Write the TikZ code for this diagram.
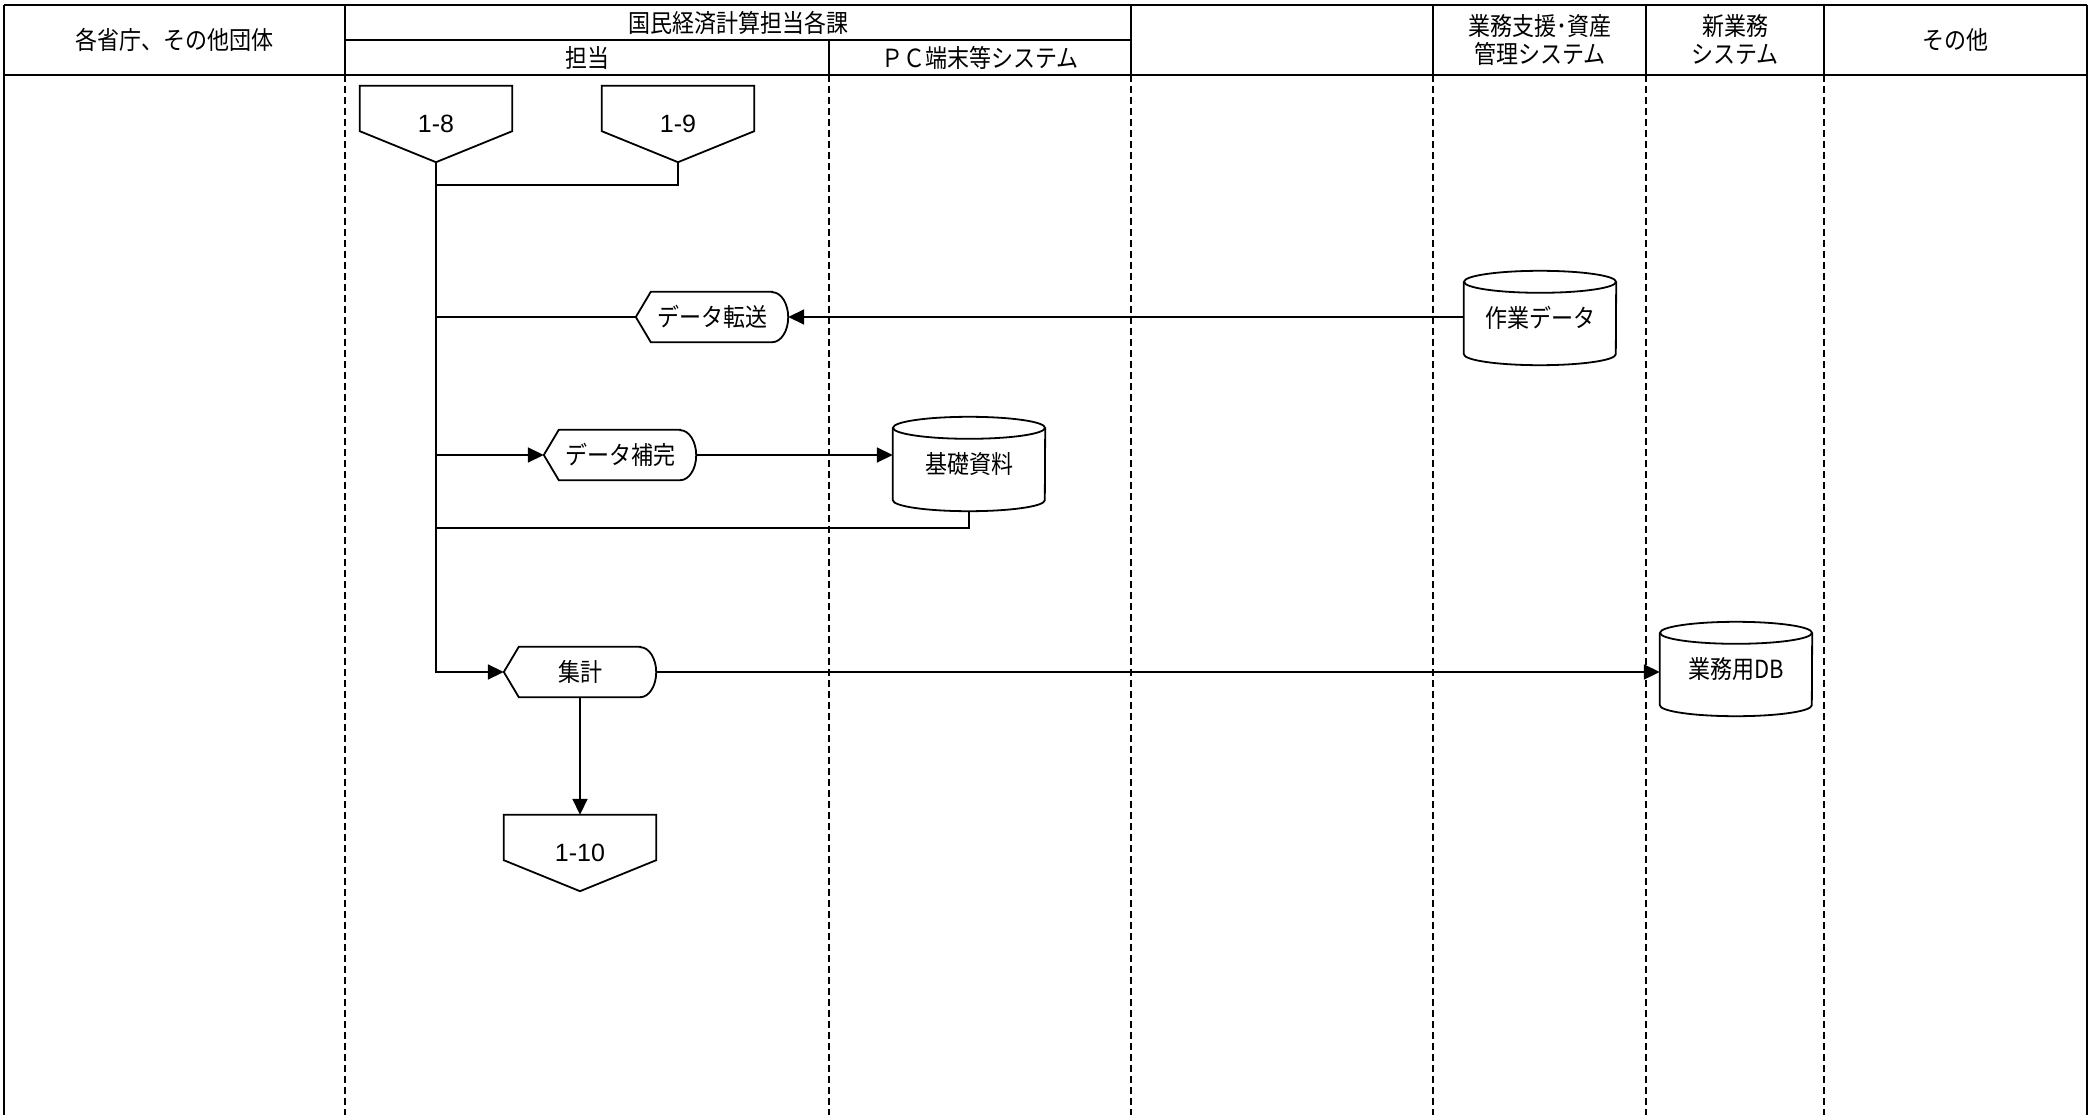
\documentclass[tikz,border=0pt]{standalone}
\usepackage{fontspec}
\setmainfont{Noto Sans CJK JP}[FakeStretch=0.88]
\newfontfamily\numfont{Liberation Sans}
\usetikzlibrary{arrows.meta,calc}

\newcommand\myoff[3]{%
  \node[offbox] (#1) at (#2) {#3};
  \draw[shp] (#1.north west) -- (#1.north east) -- ($(#1.south east)+(0,31)$) -- (#1.south) -- ($(#1.south west)+(0,31)$) -- cycle;
}
\newcommand\mydisp[3]{%
  \node[dispbox] (#1) at (#2) {#3};
  \draw[shp] ($(#1.north east)+(-16,0)$) -- ($(#1.north west)+(15,0)$) -- (#1.west) -- ($(#1.south west)+(15,0)$) -- ($(#1.south east)+(-16,0)$) arc[start angle=-90,end angle=90,x radius=16,y radius=25] -- cycle;
}
\newcommand\mycyl[3]{%
  \node[cylbox] (#1) at (#2) {#3};
  \draw[shp] ($(#1.north)+(0,-11)$) ellipse [x radius=76, y radius=11];
  \draw[shp] ($(#1.north west)+(0,-11)$) -- ($(#1.south west)+(0,11)$) arc[start angle=180,end angle=360,x radius=76,y radius=11] -- ($(#1.north east)+(0,-11)$);
}

\begin{document}
\begin{tikzpicture}[x=1pt,y=1pt,
  frame/.style={line width=2.5pt},
  lane/.style={line width=1.5pt, dash pattern=on 7pt off 4pt},
  conn/.style={line width=1.8pt},
  arr/.style={conn, -{Triangle[length=16pt,width=15pt]}},
  shp/.style={line width=1.8pt, line join=miter},
  lbl/.style={font=\fontsize{25}{28}\selectfont, inner sep=0pt},
  hdr/.style={font=\fontsize{25}{28}\selectfont, align=center, inner sep=0pt},
  offbox/.style={lbl, font=\numfont\fontsize{25}{28}\selectfont, minimum width=152pt, minimum height=76pt},
  dispbox/.style={lbl, minimum width=152pt, minimum height=50pt},
  cylbox/.style={lbl, minimum width=152pt, minimum height=94pt},
]
\useasboundingbox (0,0) rectangle (2091,-1115);

% frame
\draw[frame] (4,-5) -- (2087,-5);
\draw[frame] (4,-75) -- (2087,-75);
\draw[frame] (345,-40) -- (1131,-40);
\draw[frame] (4,-5) -- (4,-1115);
\draw[frame] (2087,-5) -- (2087,-1115);
\foreach \x in {345,1131,1433,1646,1824} \draw[frame] (\x,-5) -- (\x,-75);
\draw[frame] (829,-40) -- (829,-75);
\foreach \x in {345,829,1131,1433,1646,1824} \draw[lane] (\x,-75) -- (\x,-1115);

% header
\node[hdr] (h1) at (174,-40) {各省庁、その他団体};
\node[hdr] (h2) at (738,-23) {国民経済計算担当各課};
\node[hdr] (h3) at (587,-58) {担当};
\node[hdr] (h4) at (980,-58) {ＰＣ端末等システム};
\node[hdr] (h5) at (1540,-40) {業務支援･資産\\管理システム};
\node[hdr] (h6) at (1735,-40) {新業務\\システム};
\node[hdr] (h7) at (1955,-40) {その他};

% shapes
\myoff{p18}{436,-124}{1-8}
\myoff{p19}{678,-124}{1-9}
\mydisp{xfer}{712,-317}{データ転送}
\mycyl{work}{1540,-318}{作業データ}
\mydisp{comp}{620,-455}{データ補完}
\mycyl{kiso}{969,-464}{基礎資料}
\mydisp{agg}{580,-672}{集計}
\mycyl{db}{1736,-669}{業務用DB}
\myoff{p110}{580,-853}{1-10}

\coordinate (j1) at (436,-185);
\coordinate (j2) at (436,-528);

% connectors
\draw[arr] (p18.south) |- (agg.west);
\draw[conn] (p19.south) |- (j1);
\draw[conn] (p18.south |- xfer.west) -- (xfer.west);
\draw[arr] (work.west |- xfer.east) -- (xfer.east);
\draw[arr] (p18.south |- comp.west) -- (comp.west);
\draw[arr] (comp.east) -- (comp.east -| kiso.west);
\draw[conn] (kiso.south) |- (j2);
\draw[arr] (agg.east) -- (agg.east -| db.west);
\draw[arr] (agg.south) -- (p110.north);
\end{tikzpicture}
\end{document}
